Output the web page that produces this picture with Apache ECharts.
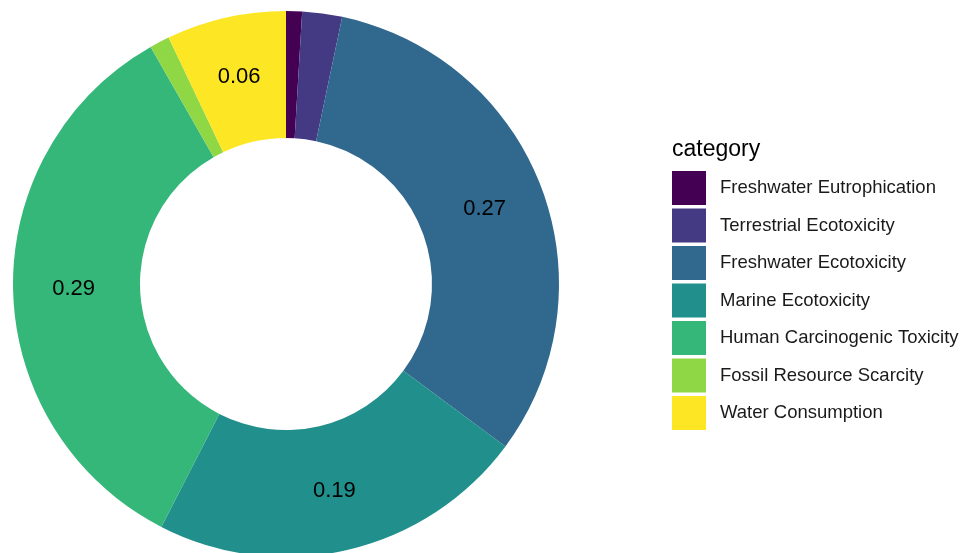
<!DOCTYPE html>
<html>
<head>
<meta charset="utf-8">
<script src="https://cdn.jsdelivr.net/npm/echarts@6/dist/echarts.min.js"></script>
<style>
html,body{margin:0;padding:0;background:#fff;}
#chart{width:976px;height:553px;}
</style>
</head>
<body>
<div id="chart"></div>
<script>
const categories = [
  'Freshwater Eutrophication',
  'Terrestrial Ecotoxicity',
  'Freshwater Ecotoxicity',
  'Marine Ecotoxicity',
  'Human Carcinogenic Toxicity',
  'Fossil Resource Scarcity',
  'Water Consumption'
];
const values = [0.008, 0.02, 0.27, 0.19, 0.29, 0.01, 0.06];
const colors = ['#440154', '#443A83', '#31688E', '#21908C', '#35B779', '#8FD744', '#FDE725'];
const legendTitle = 'category';
const labelThreshold = 0.05;

const FONT = 'Liberation Sans, Arial, sans-serif';
const chart = echarts.init(document.getElementById('chart'));
chart.setOption({
  animation: false,
  color: colors,
  title: {
    text: legendTitle,
    left: 667,
    top: 133,
    textStyle: { fontFamily: FONT, fontSize: 23, fontWeight: 'normal', color: '#000' }
  },
  legend: {
    orient: 'vertical',
    left: 672,
    top: 171,
    padding: 0,
    itemWidth: 34,
    itemHeight: 34,
    itemGap: 3.5,
    icon: 'rect',
    data: categories,
    formatter: n => '{t|' + n + '}',
    textStyle: {
      fontFamily: FONT, fontSize: 18.5, color: '#1a1a1a',
      rich: { t: { fontFamily: FONT, fontSize: 18.5, color: '#1a1a1a', padding: [0, 0, 0, 9] } }
    }
  },
  series: [{
    type: 'pie',
    center: [286, 284],
    radius: [146, 273],
    startAngle: 90,
    clockwise: true,
    avoidLabelOverlap: false,
    itemStyle: { borderWidth: 0 },
    emphasis: { disabled: true },
    label: {
      position: 'inside',
      fontFamily: FONT,
      fontSize: 22,
      color: '#000',
      formatter: p => p.value.toFixed(2)
    },
    labelLine: { show: false },
    data: categories.map((c, i) => ({
      name: c,
      value: values[i],
      label: { show: values[i] >= labelThreshold }
    }))
  }]
});
</script>
</body>
</html>
